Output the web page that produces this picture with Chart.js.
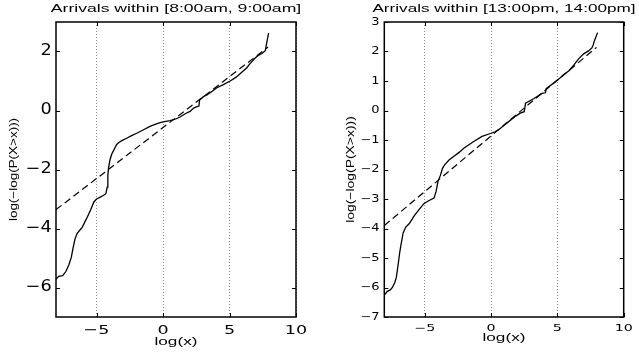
<!DOCTYPE html>
<html>
<head>
<meta charset="utf-8">
<script src="https://cdn.jsdelivr.net/npm/chart.js@4.4.1/dist/chart.umd.min.js"></script>
<style>
  body { margin: 0; background: #fff; }
  .box { position: absolute; top: 0; }
</style>
</head>
<body>
<div class="box" style="left:0"><canvas id="leftChart" width="320" height="358"></canvas></div>
<div class="box" style="left:320px"><canvas id="rightChart" width="319" height="358"></canvas></div>
<script>
// values, log(x) vs log(-log(P(X>x)))
var leftX = [-8.05, -7.85, -7.55, -7.3, -7.08, -6.9, -6.75, -6.62, -6.46, -6.25, -6.08, -5.85, -5.7, -5.45, -5.2, -5.0,
  -4.82, -4.5, -4.3, -4.2, -4.15, -4.1, -3.99, -3.85, -3.69, -3.5, -3.37, -3.1, -2.74, -2.4, -1.98, -1.5, -0.98, -0.5,
  -0.23, 0.2, 0.53, 1.0, 1.28, 1.7, 2.03, 2.3, 2.5, 2.7, 2.75, 3.04, 3.3, 3.7, 4.05, 4.5, 5.05, 5.5, 6.05, 6.3, 6.56,
  6.93, 7.2, 7.44, 7.69, 7.8, 7.94];
var leftY = [-5.72, -5.62, -5.6, -5.45, -5.23, -4.98, -4.62, -4.35, -4.16, -4.05, -3.96, -3.75, -3.62, -3.37, -3.1, -3.0,
  -2.96, -2.88, -2.82, -2.6, -2.2, -1.95, -1.67, -1.47, -1.33, -1.16, -1.1, -1.02, -0.94, -0.86, -0.77, -0.66, -0.54, -0.45,
  -0.41, -0.37, -0.34, -0.28, -0.22, -0.1, -0.03, 0.08, 0.12, 0.15, 0.36, 0.47, 0.53, 0.65, 0.77, 0.87, 1.0, 1.13, 1.35, 1.45, 1.6,
  1.78, 1.88, 1.93, 2.03, 2.3, 2.62];
var leftFitX = [-8.05, 7.9];
var leftFitY = [-3.36, 2.15];

var rightX = [-8.05, -7.82, -7.6, -7.44, -7.25, -7.14, -6.99, -6.9, -6.81, -6.63, -6.43, -6.18, -5.95, -5.8, -5.43, -5.05,
  -4.67, -4.3, -4.15, -4.0, -3.82, -3.67, -3.5, -3.17, -2.8, -2.41, -2.06, -1.31, -0.68, -0.05, 0.3, 0.57, 1.2, 1.82, 2.2,
  2.5, 2.6, 3.21, 3.84, 4.1, 4.16, 4.72, 5.22, 5.47, 5.85, 6.22, 6.6, 6.98, 7.35, 7.6, 7.7, 7.78, 8.03];
var rightY = [-6.26, -6.13, -6.08, -6.0, -5.82, -5.65, -5.17, -4.85, -4.6, -4.15, -3.95, -3.84, -3.68, -3.57, -3.36, -3.15,
  -3.05, -2.97, -2.75, -2.4, -2.2, -1.97, -1.84, -1.68, -1.55, -1.42, -1.28, -1.05, -0.88, -0.78, -0.72, -0.65, -0.42, -0.2, -0.09,
  -0.04, 0.25, 0.4, 0.58, 0.6, 0.74, 0.93, 1.11, 1.21, 1.34, 1.53, 1.75, 1.92, 2.02, 2.12, 2.22, 2.35, 2.64];
var rightFitX = [-8.05, 7.95];
var rightFitY = [-3.9, 2.14];

var xTicks = [-5, 0, 5, 10];
var leftYTicks = [-6, -4, -2, 0, 2];
var rightYTicks = [-7, -6, -5, -4, -3, -2, -1, 0, 1, 2, 3];

var xMin = -8.05, xMax = 10, yMin = -7, yMax = 3;

Chart.defaults.color = '#000';

function points(xs, ys) {
  return xs.map(function (x, i) { return { x: x, y: ys[i] }; });
}

// the original figure is stretched sideways, so widen text per font size
function stretchText(ctx, table) {
  var fill = ctx.fillText;
  ctx.fillText = function (text, x, y) {
    var m = this.font.match(/([\d.]+)px/);
    var sx = m ? table[m[1]] : null;
    if (!sx) return fill.call(this, text, x, y);
    this.save();
    this.translate(x, y);
    this.scale(sx, 1);
    fill.call(this, text, 0, 0);
    this.restore();
  };
}

var frame = {
  id: 'frame',
  afterDraw: function (chart) {
    var a = chart.chartArea, c = chart.ctx;
    var xs = chart.scales.x, ys = chart.scales.y;
    c.save();
    c.strokeStyle = '#000';
    c.lineWidth = 1;
    c.beginPath();
    ys.ticks.forEach(function (t) {
      var p = Math.round(ys.getPixelForValue(t.value)) + 0.5;
      c.moveTo(a.left, p); c.lineTo(a.left + 4, p);
      c.moveTo(a.right, p); c.lineTo(a.right - 4, p);
    });
    xs.ticks.forEach(function (t) {
      var p = Math.round(xs.getPixelForValue(t.value)) + 0.5;
      c.moveTo(p, a.top); c.lineTo(p, a.top + 4);
      c.moveTo(p, a.bottom); c.lineTo(p, a.bottom - 4);
    });
    c.stroke();
    c.lineWidth = 1.5;
    c.strokeRect(a.left, a.top, a.right - a.left, a.bottom - a.top);
    c.restore();
  }
};

function makeChart(id, opt) {
  var ctx = document.getElementById(id).getContext('2d');
  stretchText(ctx, opt.stretch);
  return new Chart(ctx, {
    type: 'scatter',
    data: {
      datasets: [{
        data: points(opt.fitX, opt.fitY),
        showLine: true,
        borderColor: '#000',
        borderWidth: 1.2,
        borderDash: [7, 4],
        pointRadius: 0
      }, {
        data: points(opt.x, opt.y),
        showLine: true,
        borderColor: '#000',
        borderWidth: 1.3,
        pointRadius: 0
      }]
    },
    options: {
      responsive: false,
      animation: false,
      devicePixelRatio: 1,
      layout: { padding: { left: 0, right: opt.padRight, top: 0, bottom: 0 } },
      plugins: {
        legend: { display: false },
        tooltip: { enabled: false },
        title: {
          display: true,
          text: opt.title,
          fullSize: false,
          font: { family: 'Liberation Sans', size: 11, weight: 'normal', lineHeight: 1.2 },
          padding: { top: 2, bottom: 6.8 }
        }
      },
      scales: {
        x: {
          type: 'linear',
          min: xMin,
          max: xMax,
          afterFit: function (s) { s.height = 41; },
          afterBuildTicks: function (s) { s.ticks = xTicks.map(function (v) { return { value: v }; }); },
          grid: { color: '#8a8a8a', lineWidth: 1, drawTicks: false },
          border: { display: false, dash: [1, 2] },
          ticks: {
            font: { family: 'DejaVu Sans', size: opt.xTickSize },
            padding: opt.xTickPad,
            maxRotation: 0,
            callback: function (v) { return String(v).replace('-', '\u2212'); }
          },
          title: {
            display: true,
            text: 'log(x)',
            font: { family: 'Liberation Sans', size: 10.5 },
            padding: { top: 0, bottom: opt.xTitlePad }
          }
        },
        y: {
          type: 'linear',
          min: yMin,
          max: yMax,
          afterFit: function (s) { s.width = opt.yWidth; },
          afterBuildTicks: function (s) { s.ticks = opt.yTicks.map(function (v) { return { value: v }; }); },
          grid: { display: false, drawTicks: false },
          border: { display: false },
          ticks: {
            font: { family: 'DejaVu Sans', size: opt.yTickSize },
            padding: opt.yTickPad,
            callback: function (v) { return String(v).replace('-', '\u2212'); }
          },
          title: {
            display: true,
            text: 'log(\u2212log(P(X>x)))',
            font: { family: 'Liberation Sans', size: 11.5 },
            padding: { top: opt.yTitlePad, bottom: 0 }
          }
        }
      }
    },
    plugins: [frame]
  });
}

makeChart('leftChart', {
  x: leftX, y: leftY, fitX: leftFitX, fitY: leftFitY,
  title: 'Arrivals within [8:00am, 9:00am]',
  yTicks: leftYTicks,
  padRight: 24, yWidth: 56,
  xTickSize: 13, xTickPad: 5.5, xTitlePad: 9.2,
  yTickSize: 15, yTickPad: 4.3, yTitlePad: 6.6,
  stretch: { '11': 1.6, '11.5': 1.17, '10.5': 1.64, '15': 1.18, '13': 1.35 }
});

makeChart('rightChart', {
  x: rightX, y: rightY, fitX: rightFitX, fitY: rightFitY,
  title: 'Arrivals within [13:00pm, 14:00pm]',
  yTicks: rightYTicks,
  padRight: 15.3, yWidth: 64.3,
  xTickSize: 9.5, xTickPad: 6.3, xTitlePad: 13.3,
  yTickSize: 10, yTickPad: 4.7, yTitlePad: 24,
  stretch: { '11': 1.56, '11.5': 1.21, '10.5': 1.64, '10': 1.3, '9.5': 1.5 }
});
</script>
</body>
</html>
